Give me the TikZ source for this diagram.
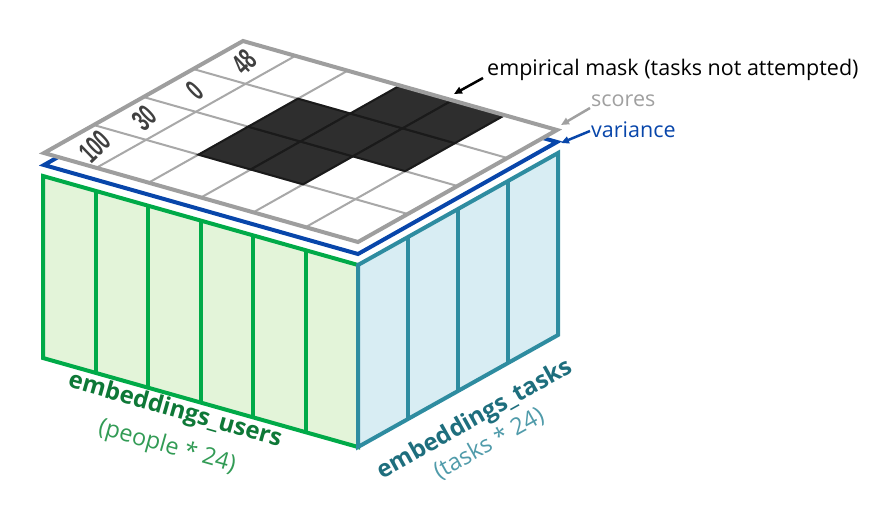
\documentclass[tikz,border=0pt]{standalone}
\usepackage{fontspec}
\setmainfont{Open Sans}
\newfontfamily\numfont{Liberation Sans}
\usetikzlibrary{arrows.meta}
\definecolor{gridgray}{RGB}{158,158,158}
\definecolor{linegray}{RGB}{168,168,168}
\definecolor{darkcellc}{RGB}{46,46,46}
\definecolor{darklinec}{RGB}{26,26,26}
\definecolor{varblue}{RGB}{8,70,170}
\definecolor{ugreen}{RGB}{0,170,72}
\definecolor{ugreenfill}{RGB}{227,244,217}
\definecolor{ugreentext}{RGB}{14,120,55}
\definecolor{ugreenlight}{RGB}{50,155,85}
\definecolor{tteal}{RGB}{46,140,160}
\definecolor{ttealfill}{RGB}{216,237,243}
\definecolor{ttealtext}{RGB}{30,110,125}
\definecolor{tteallight}{RGB}{80,155,170}
\definecolor{numgray}{RGB}{64,64,64}
\definecolor{scoregray}{RGB}{160,160,160}
\begin{document}
\begin{tikzpicture}[x=1pt,y=-1pt,
  facegreen/.style={draw=ugreen,line width=4pt,fill=ugreenfill,line join=miter},
  colgreen/.style={draw=ugreen,line width=4pt},
  faceteal/.style={draw=tteal,line width=4pt,fill=ttealfill,line join=miter},
  colteal/.style={draw=tteal,line width=4pt},
  varlayer/.style={draw=varblue,line width=4pt,fill=white,line join=miter},
  gridline/.style={draw=linegray,line width=2pt},
  darkcell/.style={fill=darkcellc,draw=darklinec,line width=2pt},
  border/.style={draw=gridgray,line width=4pt,line join=miter},
  numtext/.style={text=numgray,inner sep=0pt,rotate=44,font=\numfont\bfseries\fontsize{30}{30}\selectfont},
  lbl/.style={inner sep=0pt,anchor=west,font=\fontsize{21.5}{24}\selectfont},
  embmain/.style={inner sep=0pt,font=\bfseries\fontsize{24}{28}\selectfont},
  embsub/.style={inner sep=0pt,font=\fontsize{23.5}{27}\selectfont},
  pointer/.style={line width=2.5pt,-{Triangle[length=8pt,width=7pt]}}
]
\useasboundingbox (0,0) rectangle (878,512);

% front face: users
\begin{scope}[shift={(43,176)},x={(52.5pt,-14.833pt)},y={(0pt,-1pt)}]
  \draw[facegreen] (0,0) -- (6,0) -- (6,182) -- (0,182) -- cycle;
  \foreach \k in {1,...,5} \draw[colgreen] (\k,0) -- (\k,182);
\end{scope}

% right face: tasks
\begin{scope}[shift={(358,265)},x={(50pt,28pt)},y={(0pt,-1pt)}]
  \draw[faceteal] (0,0) -- (4,0) -- (4,182) -- (0,182) -- cycle;
  \foreach \k in {1,2,3} \draw[colteal] (\k,0) -- (\k,182);
\end{scope}

% variance layer
\begin{scope}[shift={(44,165)},x={(52.333pt,-14.833pt)},y={(49.75pt,28pt)}]
  \draw[varlayer] (0,0) -- (6,0) -- (6,4) -- (0,4) -- cycle;
\end{scope}

% scores layer
\begin{scope}[shift={(44,153)},x={(52.333pt,-14.833pt)},y={(49.75pt,28pt)}]
  \fill[white] (0,0) -- (6,0) -- (6,4) -- (0,4) -- cycle;
  \foreach \i in {1,...,5} \draw[gridline] (\i,0) -- (\i,4);
  \foreach \j in {1,2,3} \draw[gridline] (0,\j) -- (6,\j);
  \foreach \i/\j in {2/1,2/2,3/1,3/2,4/2,3/3,4/3}
    \draw[darkcell] (\i,\j) -- ++(1,0) -- ++(0,1) -- ++(-1,0) -- cycle;
  \draw[border] (0,0) -- (6,0) -- (6,4) -- (0,4) -- cycle;
  \node[numtext] (n100) at (0.5,0.5) {\scalebox{0.6}[1]{100}};
  \node[numtext] (n30) at (0.5,1.5) {\scalebox{0.6}[1]{30}};
  \node[numtext] (n0) at (0.5,2.5) {\scalebox{0.6}[1]{0}};
  \node[numtext] (n48) at (0.5,3.5) {\scalebox{0.6}[1]{48}};
\end{scope}

% labels with pointers
\node[lbl] (mask) at (487,70) {empirical mask (tasks not attempted)};
\coordinate (maskfrom) at (483,78);
\coordinate (maskto) at (454,94);
\draw[pointer,draw=black] (maskfrom) -- (maskto);

\node[lbl,text=scoregray] (scores) at (591,101) {scores};
\coordinate (scoresfrom) at (590,108);
\coordinate (scoresto) at (561,125);
\draw[pointer,draw=scoregray,fill=scoregray] (scoresfrom) -- (scoresto);

\node[lbl,text=varblue] (variance) at (591,130) {variance};
\coordinate (varfrom) at (590,131);
\coordinate (varto) at (561,143);
\draw[pointer,draw=varblue,fill=varblue] (varfrom) -- (varto);

% face labels
\node[embmain,text=ugreentext,rotate=-15.8] (usersmain) at (175,411) {embeddings\_users};
\node[embsub,text=ugreenlight,rotate=-15.8] (userssub) at (167,447) {(people * 24)};
\node[embmain,text=ttealtext,rotate=29.2] (tasksmain) at (475,420) {embeddings\_tasks};
\node[embsub,text=tteallight,rotate=29.2] (taskssub) at (489,444) {(tasks * 24)};
\end{tikzpicture}
\end{document}
